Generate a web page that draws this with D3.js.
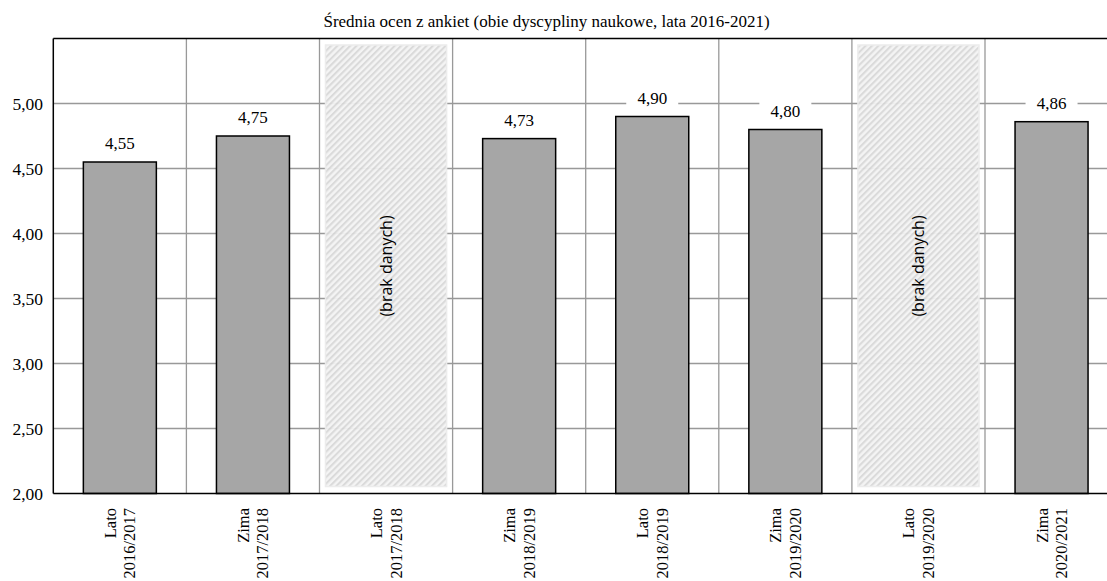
<!DOCTYPE html>
<html><head><meta charset="utf-8">
<script src="https://cdn.jsdelivr.net/npm/d3@7"></script>
<style>body{margin:0;background:#fff;}svg{display:block;}</style>
</head><body>
<svg id="c" width="1107" height="581"></svg>
<script>
const title = "Średnia ocen z ankiet (obie dyscypliny naukowe, lata 2016-2021)";
const seasons = ["Lato","Zima","Lato","Zima","Lato","Zima","Lato","Zima"];
const years = ["2016/2017","2017/2018","2017/2018","2018/2019","2018/2019","2019/2020","2019/2020","2020/2021"];
const values = [4.55, 4.75, null, 4.73, 4.90, 4.80, null, 4.86];
const yTicks = [2.0, 2.5, 3.0, 3.5, 4.0, 4.5, 5.0];
const noDataText = "(brak danych)";

const SERIF = "'Liberation Serif', 'Times New Roman', serif";
const svg = d3.select("#c");
const L = 53.3, T = 38.5, B = 493.5, BW = 133.1;
const cats = d3.range(values.length);
const x = d3.scaleBand().domain(cats).range([L, L + BW*cats.length]).paddingInner(0).paddingOuter(0);
const y = d3.scaleLinear().domain([2, 5.5]).range([B, T]);
const fmt = v => d3.format(".2f")(v).replace(".", ",");

const defs = svg.append("defs");
const pat = defs.append("pattern").attr("id","hatch").attr("patternUnits","userSpaceOnUse")
  .attr("width",4.5).attr("height",4.5).attr("patternTransform","rotate(-45)");
pat.append("rect").attr("width",4.5).attr("height",4.5).attr("fill","#f4f4f4");
pat.append("rect").attr("width",4.5).attr("height",2.1).attr("fill","#d9d9d9");

// title
svg.append("text").attr("x",546.5).attr("y",27).attr("text-anchor","middle")
  .attr("font-family",SERIF).attr("font-size",17).attr("fill","#000")
  .text(title);

// horizontal grid
svg.append("g").selectAll("line").data(yTicks.filter(t=>t>2)).join("line")
  .attr("x1",L).attr("x2",x.range()[1]).attr("y1",d=>y(d)).attr("y2",d=>y(d))
  .attr("stroke","#999").attr("stroke-width",1.3);
// vertical grid
svg.append("g").selectAll("line").data(cats.slice(1)).join("line")
  .attr("x1",d=>x(d)).attr("x2",d=>x(d)).attr("y1",T).attr("y2",B)
  .attr("stroke","#999").attr("stroke-width",1.3);

// no data areas
const nd = cats.filter(i=>values[i]===null);
svg.append("g").selectAll("rect").data(nd).join("rect")
  .attr("x",d=>x(d)+6).attr("width",x.bandwidth()-12)
  .attr("y",T+6.5).attr("height",B-T-13.5)
  .attr("fill","url(#hatch)").attr("stroke","#ececec").attr("stroke-width",1.5).attr("opacity",0.95);
svg.append("g").selectAll("text").data(nd).join("text")
  .attr("transform",d=>`translate(${x(d)+x.bandwidth()/2+6},${(T+B)/2}) rotate(-90)`)
  .attr("text-anchor","middle").attr("font-family","'Open Sans', 'DejaVu Sans', sans-serif").attr("font-size",16)
  .attr("fill","#000").text(noDataText);

// bars
const bars = cats.filter(i=>values[i]!==null);
const bw = 73;
svg.append("g").selectAll("rect").data(bars).join("rect")
  .attr("x",d=>x(d)+(x.bandwidth()-bw)/2).attr("width",bw)
  .attr("y",d=>y(values[d])).attr("height",d=>B-y(values[d]))
  .attr("fill","#a6a6a6").attr("stroke","#000").attr("stroke-width",1.5);

// value labels with white background
const lg = svg.append("g").selectAll("g").data(bars).join("g")
  .attr("transform",d=>`translate(${x(d)+x.bandwidth()/2},${y(values[d])-13})`);
lg.append("rect").attr("x",-26).attr("width",52).attr("y",-15).attr("height",19).attr("fill","#fff");
lg.append("text").attr("text-anchor","middle").attr("font-family",SERIF)
  .attr("font-size",17).attr("fill","#000").text(d=>fmt(values[d]));

// axes frame
svg.append("line").attr("x1",L).attr("x2",x.range()[1]).attr("y1",T).attr("y2",T).attr("stroke","#000").attr("stroke-width",1.5);
svg.append("line").attr("x1",L).attr("x2",x.range()[1]).attr("y1",B).attr("y2",B).attr("stroke","#000").attr("stroke-width",1.5);
svg.append("line").attr("x1",L).attr("x2",L).attr("y1",T).attr("y2",B).attr("stroke","#000").attr("stroke-width",1.5);

// y tick labels
svg.append("g").selectAll("text").data(yTicks).join("text")
  .attr("x",43).attr("y",d=>y(d)+6).attr("text-anchor","end")
  .attr("font-family",SERIF).attr("font-size",17.5).attr("fill","#000")
  .text(d=>fmt(d));

// x labels
const xl = svg.append("g").selectAll("text").data(cats).join("text")
  .attr("transform",d=>`translate(${x(d)+x.bandwidth()/2},508) rotate(-90)`)
  .attr("text-anchor","end").attr("font-family",SERIF)
  .attr("font-size",16.5).attr("fill","#000");
xl.append("tspan").attr("x",0).attr("y",-4).text(d=>seasons[d]);
xl.append("tspan").attr("x",0).attr("y",15.5).text(d=>years[d]);
</script>
</body></html>
